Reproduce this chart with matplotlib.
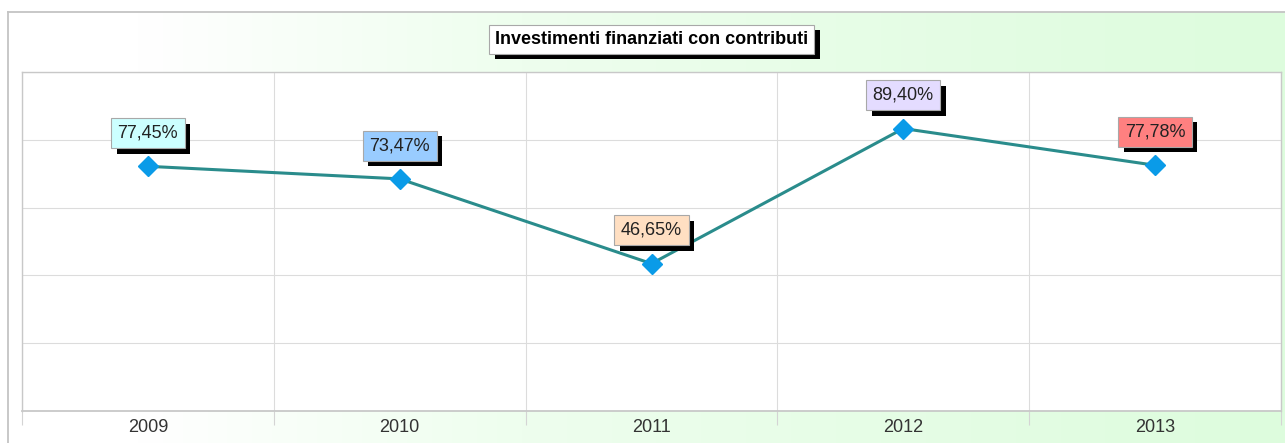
import matplotlib
matplotlib.use('Agg')
import matplotlib.pyplot as plt
import matplotlib.patheffects as pe
import numpy as np
from matplotlib.colors import LinearSegmentedColormap

plt.rcParams['font.family'] = ['Liberation Sans', 'DejaVu Sans']

# data
anni = ['2009', '2010', '2011', '2012', '2013']
percentuali = [77.45, 73.47, 46.65, 89.40, 77.78]
colori_etichette = ['#ccffff', '#99ccff', '#ffdfc2', '#e4dcff', '#ff8080']
titolo = 'Investimenti finanziati con contributi'

fig = plt.figure(figsize=(12.85, 4.43), dpi=100)

# sfondo sfumato bianco -> verde chiaro
bg = fig.add_axes([0, 0, 1, 1], zorder=-5)
bg.set_xlim(0, 1285)
bg.set_ylim(443, 0)
bg.axis('off')
cmap = LinearSegmentedColormap.from_list(
    'bg', [(0, '#ffffff'), (0.1, '#ffffff'), (0.4, '#eefeee'), (1, '#ddfcdd')])
grad = np.linspace(0, 1, 256).reshape(1, -1)
bg.imshow(grad, cmap=cmap, aspect='auto', extent=(8, 1285, 443, 12))
bg.plot([8, 8], [12, 443], color='#c4c4c4', lw=1.3)
bg.plot([8, 1285], [12, 12], color='#c4c4c4', lw=1.3)

ax = fig.add_axes([22 / 1285, 32 / 443, 1259 / 1285, 339 / 443])
ax.set_facecolor('white')
x = np.arange(len(anni))
ax.plot(x, percentuali, color='#2a8c8c', lw=2.2, marker='D', markersize=10.2,
        markerfacecolor='#0a9be8', markeredgecolor='#0a9be8', zorder=3)

ax.set_xlim(-0.5, len(anni) - 0.5)
ax.set_ylim(0, 107.3)
ax.set_yticks(np.linspace(0, 107.3, 6))
ax.set_yticklabels([])
ax.tick_params(axis='y', length=0)
ax.set_xticks(x)
ax.set_xticklabels(anni, fontsize=13, color='#333333')
ax.tick_params(axis='x', which='major', length=0, pad=6)
ax.set_xticks(np.arange(-0.5, len(anni)), minor=True)
ax.tick_params(axis='x', which='minor', length=10, width=0.8, color='#d4d4d4')
ax.grid(True, which='minor', axis='x', color='#dcdcdc', lw=0.8)
ax.grid(True, which='major', axis='y', color='#dcdcdc', lw=0.8)
ax.set_axisbelow(True)
for s in ax.spines.values():
    s.set_color('#c8c8c8')
    s.set_linewidth(1.0)
ax.spines['bottom'].set_linewidth(1.3)

ombra = [pe.SimplePatchShadow(offset=(4, -4), shadow_rgbFace='black', alpha=1.0), pe.Normal()]

for xi, v, c in zip(x, percentuali, colori_etichette):
    testo = f'{v:.2f}'.replace('.', ',') + '%'
    t = ax.annotate(testo, (xi, v), xytext=(0, 24), textcoords='offset points',
                    ha='center', va='center', color='#222222', fontsize=13, zorder=6,
                    bbox=dict(boxstyle='square,pad=0.36', fc=c, ec='#a8a8a8', lw=0.8))
    t.get_bbox_patch().set_path_effects(ombra)

tt = ax.annotate(titolo, (0.5, 1.097), xycoords='axes fraction', ha='center', va='center',
                 color='black', fontsize=13, fontweight='bold', annotation_clip=False,
                 bbox=dict(boxstyle='square,pad=0.33', fc='white', ec='#a8a8a8', lw=0.8))
tt.get_bbox_patch().set_path_effects(ombra)

fig.savefig('out.png', dpi=100)
